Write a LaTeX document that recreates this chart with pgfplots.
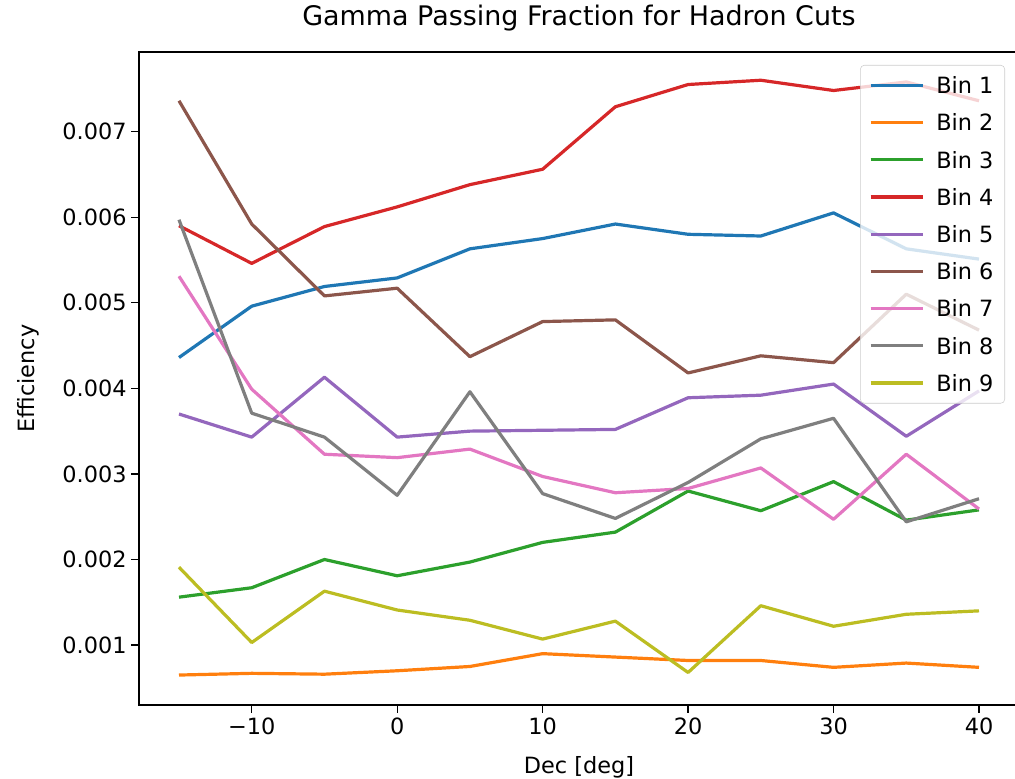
\documentclass[border=0pt]{standalone}
\usepackage{fontspec}
\setmainfont{DejaVu Sans}
\usepackage{pgfplots}
\usepackage{pgfplotstable}
\pgfplotsset{compat=1.18}
\definecolor{c0}{HTML}{1F77B4}
\definecolor{c1}{HTML}{FF7F0E}
\definecolor{c2}{HTML}{2CA02C}
\definecolor{c3}{HTML}{D62728}
\definecolor{c4}{HTML}{9467BD}
\definecolor{c5}{HTML}{8C564B}
\definecolor{c6}{HTML}{E377C2}
\definecolor{c7}{HTML}{7F7F7F}
\definecolor{c8}{HTML}{BCBD22}
\pgfplotstableread{
x   b1      b2      b3      b4      b5      b6      b7      b8      b9
-15 0.00436 0.00065 0.00156 0.00590 0.00370 0.00736 0.00531 0.00597 0.00191
-10 0.00496 0.00067 0.00167 0.00546 0.00343 0.00592 0.00399 0.00371 0.00103
-5  0.00519 0.00066 0.00200 0.00589 0.00413 0.00508 0.00323 0.00343 0.00163
0   0.00529 0.00070 0.00181 0.00612 0.00343 0.00517 0.00319 0.00275 0.00141
5   0.00563 0.00075 0.00197 0.00638 0.00350 0.00437 0.00329 0.00396 0.00129
10  0.00575 0.00090 0.00220 0.00656 0.00351 0.00478 0.00297 0.00277 0.00107
15  0.00592 0.00086 0.00232 0.00729 0.00352 0.00480 0.00278 0.00248 0.00128
20  0.00580 0.00082 0.00280 0.00755 0.00389 0.00418 0.00283 0.00290 0.00068
25  0.00578 0.00082 0.00257 0.00760 0.00392 0.00438 0.00307 0.00341 0.00146
30  0.00605 0.00074 0.00291 0.00748 0.00405 0.00430 0.00247 0.00365 0.00122
35  0.00563 0.00079 0.00246 0.00758 0.00344 0.00510 0.00323 0.00244 0.00136
40  0.00551 0.00074 0.00258 0.00736 0.00397 0.00468 0.00259 0.00271 0.00140
}\datatable
\begin{document}
\begin{tikzpicture}
\begin{axis}[
  at={(0pt,0pt)}, anchor=south west,
  scale only axis,
  width=660pt, height=489.75pt,
  xmin=-17.75, xmax=42.75,
  ymin=0.0003, ymax=0.00793,
  font=\fontsize{16.8}{20}\selectfont,
  axis line style={line width=1pt},
  tick style={line width=1pt, black},
  tick align=outside,
  major tick length=5.8pt,
  xtick pos=bottom, ytick pos=left,
  xtick={-10,0,10,20,30,40},
  xticklabels={−10,0,10,20,30,40},
  ytick={0.001,0.002,0.003,0.004,0.005,0.006,0.007},
  yticklabels={0.001,0.002,0.003,0.004,0.005,0.006,0.007},
  scaled y ticks=false,
  title={\fontsize{20.2}{24}\selectfont Gamma Passing Fraction for Hadron Cuts},
  title style={at={(axis description cs:0.5,1)}, anchor=base, yshift=13.5pt},
  xlabel={Dec [deg]},
  xlabel style={at={(axis description cs:0.5,0)}, anchor=base, yshift=-51pt},
  ylabel={Efficiency},
  ylabel style={at={(axis description cs:-0.126,0.5)}, anchor=center},
  legend style={at={(axis description cs:0.9841,0.9801)}, anchor=north east,
    draw=black!20, rounded corners=3pt, fill=white, fill opacity=0.8, text opacity=1,
    font=\fontsize{16.8}{20}\selectfont, row sep=11.6pt, inner xsep=6.5pt, inner ysep=7pt,
    nodes={text height=12.3pt, text depth=0pt},
    /tikz/every odd column/.append style={column sep=6.5pt}},
  legend cell align=left,
  legend image code/.code={\draw[#1] (0pt,0pt) -- (39.5pt,0pt);},
  every axis plot/.append style={line width=2.4pt, line join=round},
]
\addplot[c0] table[x=x,y=b1]{\datatable}; \addlegendentry{Bin 1}
\addplot[c1] table[x=x,y=b2]{\datatable}; \addlegendentry{Bin 2}
\addplot[c2] table[x=x,y=b3]{\datatable}; \addlegendentry{Bin 3}
\addplot[c3] table[x=x,y=b4]{\datatable}; \addlegendentry{Bin 4}
\addplot[c4] table[x=x,y=b5]{\datatable}; \addlegendentry{Bin 5}
\addplot[c5] table[x=x,y=b6]{\datatable}; \addlegendentry{Bin 6}
\addplot[c6] table[x=x,y=b7]{\datatable}; \addlegendentry{Bin 7}
\addplot[c7] table[x=x,y=b8]{\datatable}; \addlegendentry{Bin 8}
\addplot[c8] table[x=x,y=b9]{\datatable}; \addlegendentry{Bin 9}
\end{axis}
\pgfresetboundingbox
\useasboundingbox (-104.25pt,-55.5pt) rectangle (657pt,528.75pt);
\end{tikzpicture}
\end{document}
